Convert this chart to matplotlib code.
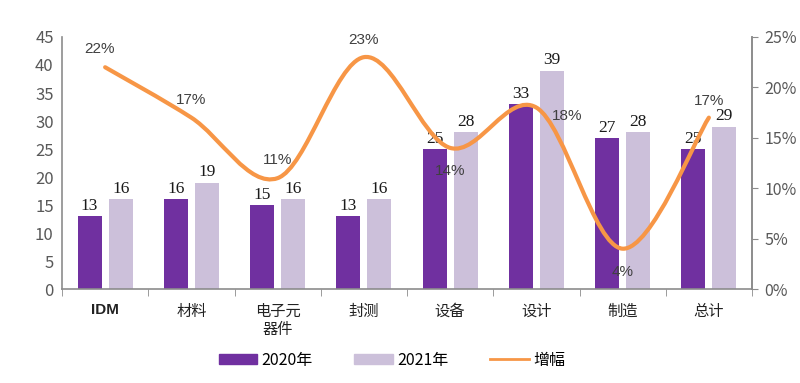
import numpy as np
import matplotlib.pyplot as plt
from matplotlib.path import Path
from matplotlib.patches import PathPatch
from matplotlib.lines import Line2D

plt.rcParams['font.family'] = ['Noto Sans CJK SC', 'DejaVu Sans']

categories = ['IDM', '材料', '电子元\n器件', '封测', '设备', '设计', '制造', '总计']
v2020 = [13, 16, 15, 13, 25, 33, 27, 25]
v2021 = [16, 19, 16, 16, 28, 39, 28, 29]
growth = [22, 17, 11, 23, 14, 18, 4, 17]
growth_labels = ['22%', '17%', '11%', '23%', '14%', '18%', '4%', '17%']
# label offsets (points) relative to each growth point
label_off = [(-4, 13), (0, 13), (0, 13), (0, 12), (0, -17), (22, -6), (0, -17), (0, 12)]

c_dark = '#7030A0'
c_light = '#CCC0DA'
c_line = '#F79646'
c_axis = '#8C8C8C'
c_text = '#404040'

fig = plt.figure(figsize=(8, 3.83), dpi=100)
ax = fig.add_axes([0.0775, 0.2454, 0.8625, 0.658])
x = np.arange(len(categories))
w = 0.28
b1 = ax.bar(x - 0.18, v2020, w, color=c_dark, label='2020年')
b2 = ax.bar(x + 0.18, v2021, w, color=c_light, label='2021年')
for bars, vals in ((b1, v2020), (b2, v2021)):
    for r, v in zip(bars, vals):
        ax.text(r.get_x() + r.get_width() / 2, v + 0.4, str(v), ha='center', va='bottom',
                fontsize=12.5, family='Liberation Serif', color='#1a1a1a')

ax.set_xlim(-0.5, len(categories) - 0.5)
ax.set_ylim(0, 45)
ax.set_yticks(np.arange(0, 46, 5))
ax.tick_params(axis='y', length=0, labelsize=12, colors='#595959', pad=6)
ax.set_xticks(x)
ax.set_xticklabels(categories, fontsize=11, color='#222222', linespacing=1.1)
ax.tick_params(axis='x', length=0, pad=10)
ax.set_xticks(np.arange(-0.5, len(categories), 1), minor=True)
ax.tick_params(axis='x', which='minor', length=5, color=c_axis, direction='out')
for lbl in ax.get_xticklabels():
    if lbl.get_text() == 'IDM':
        lbl.set_fontweight('bold')
        lbl.set_family('Liberation Sans')
ax.spines['top'].set_visible(False)
for s in ['left', 'bottom', 'right']:
    ax.spines[s].set_color(c_axis)
    ax.spines[s].set_linewidth(1.2)

ax2 = ax.twinx()
ax2.set_ylim(0, 25)
ax2.set_yticks(np.arange(0, 26, 5))
ax2.set_yticklabels([f'{t}%' for t in range(0, 26, 5)])
ax2.tick_params(axis='y', length=4, direction='out', color=c_axis, labelsize=11.5,
                labelcolor='#595959', pad=5)
ax2.spines['top'].set_visible(False)
ax2.spines['right'].set_color(c_axis)
ax2.spines['right'].set_linewidth(1.2)
ax2.spines['left'].set_visible(False)
ax2.spines['bottom'].set_visible(False)

# smoothed line (Catmull-Rom style bezier through data points)
pts = np.column_stack([x, growth]).astype(float)
ext = np.vstack([pts[0], pts, pts[-1]])
verts = [tuple(pts[0])]
codes = [Path.MOVETO]
for i in range(len(pts) - 1):
    p0, p1, p2, p3 = ext[i], ext[i + 1], ext[i + 2], ext[i + 3]
    c1 = p1 + (p2 - p0) / 6
    c2 = p2 - (p3 - p1) / 6
    verts += [tuple(c1), tuple(c2), tuple(p2)]
    codes += [Path.CURVE4] * 3
ax2.add_patch(PathPatch(Path(verts, codes), fill=False, edgecolor=c_line, lw=3, capstyle='round'))

for xi, g, t, off in zip(x, growth, growth_labels, label_off):
    ax2.annotate(t, (xi, g), xytext=off, textcoords='offset points', ha='center', va='center',
                 fontsize=11, color=c_text, family='Liberation Sans')

handles = [plt.Rectangle((0, 0), 1, 1, color=c_dark), plt.Rectangle((0, 0), 1, 1, color=c_light),
           Line2D([0], [0], color=c_line, lw=2)]
fig.legend(handles, ['2020年', '2021年', '增幅'], loc='lower center', bbox_to_anchor=(0.49, 0.0),
           ncol=3, frameon=False, fontsize=11.5, handlelength=2.4, handleheight=0.6,
           columnspacing=2.6, handletextpad=0.3)

fig.savefig('out.png', dpi=100)
